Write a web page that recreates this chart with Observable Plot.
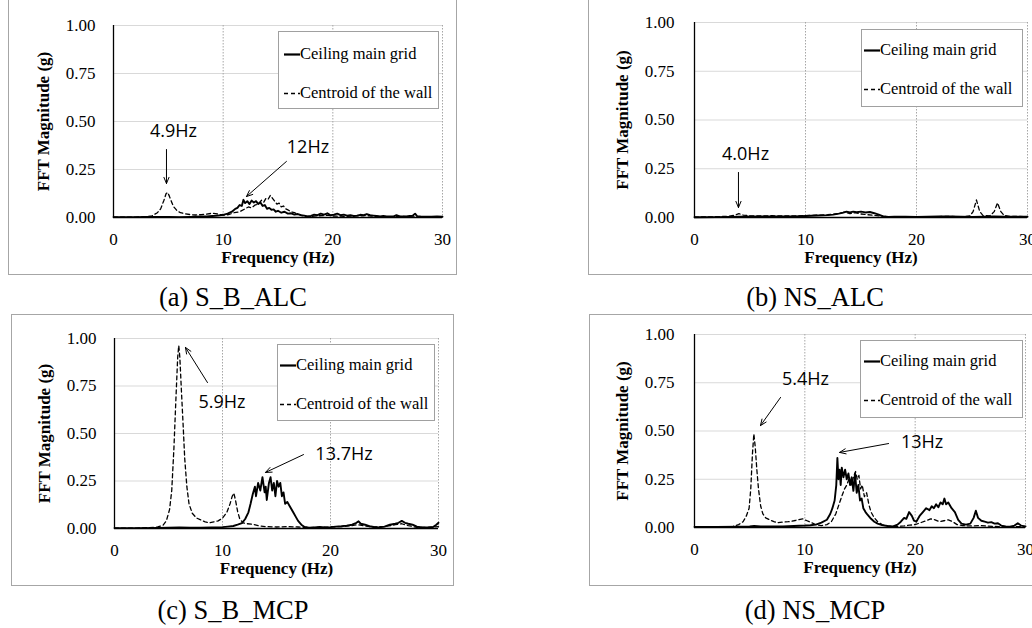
<!DOCTYPE html>
<html>
<head>
<meta charset="utf-8">
<script src="https://cdn.jsdelivr.net/npm/d3@7"></script>
<script src="https://cdn.jsdelivr.net/npm/@observablehq/plot@0.6"></script>
<style>
  html, body { margin: 0; padding: 0; background: #fff; }
  body { position: relative; width: 1032px; height: 628px; overflow: hidden; font-family: "Liberation Serif", "Times New Roman", serif; color: #000; }
  .frame { position: absolute; border: 1px solid #a6a6a6; box-sizing: border-box; }
  .chart { position: absolute; }
  .chart svg { overflow: visible; }
  .legend { position: absolute; border: 1px solid #a0a0a0; background: #fff; box-sizing: border-box; font-size: 16.5px; }
  .legend .row { position: absolute; left: 0; height: 20px; line-height: 20px; white-space: nowrap; }
  .legend svg { position: absolute; top: 0; }
  .legend span { position: absolute; top: 0; }
  .caption { position: absolute; font-size: 26.5px; line-height: 28px; white-space: nowrap; transform: translateX(-50%); }
</style>
</head>
<body>
<script>
// ---- axis ticks and series names ----
const xTicks = [0, 10, 20, 30];
const yTicks = [0, 0.25, 0.5, 0.75, 1];
const seriesNames = ["Ceiling main grid", "Centroid of the wall"];
const captions = ["(a) S_B_ALC", "(b) NS_ALC", "(c) S_B_MCP", "(d) NS_MCP"];

// ---- FFT spectra: [frequency (Hz), magnitude (g)] ----
const ceilingA = [[0,0.002],[1,0.002],[2,0.002],[3,0.003],[4,0.003],[5,0.003],[6,0.002],[7,0.003],[8,0.005],[8.5,0.006],[9,0.008],[9.5,0.01],[10,0.014],[10.4,0.02],[10.8,0.03],[11.1,0.045],[11.3,0.05],[11.5,0.065],[11.7,0.06],[11.85,0.092],[12,0.075],[12.2,0.085],[12.4,0.07],[12.6,0.088],[12.8,0.078],[13,0.085],[13.2,0.07],[13.4,0.078],[13.6,0.06],[13.8,0.065],[14,0.045],[14.2,0.05],[14.4,0.04],[14.6,0.042],[14.8,0.03],[15,0.035],[15.3,0.025],[15.6,0.03],[15.9,0.02],[16.2,0.022],[16.5,0.015],[16.8,0.018],[17.1,0.012],[17.4,0.01],[17.7,0.006],[18,0.008],[18.3,0.015],[18.6,0.012],[18.9,0.02],[19.2,0.015],[19.5,0.022],[19.8,0.012],[20.1,0.015],[20.4,0.02],[20.7,0.012],[21,0.015],[21.3,0.01],[21.6,0.012],[21.9,0.008],[22.2,0.01],[22.5,0.014],[22.8,0.012],[23.1,0.018],[23.4,0.012],[23.7,0.01],[24,0.008],[24.3,0.006],[24.6,0.008],[24.9,0.005],[25.2,0.006],[25.5,0.005],[25.8,0.012],[26.1,0.006],[26.4,0.005],[26.7,0.006],[27,0.008],[27.3,0.01],[27.5,0.02],[27.7,0.006],[28,0.005],[28.5,0.004],[29,0.004],[29.5,0.006],[30,0.004]];
const wallA = [[0,0.002],[1,0.002],[2,0.002],[3,0.004],[3.5,0.008],[4,0.025],[4.3,0.045],[4.6,0.09],[4.8,0.125],[4.95,0.13],[5.1,0.11],[5.3,0.08],[5.5,0.055],[5.8,0.035],[6.1,0.025],[6.5,0.02],[7,0.015],[7.5,0.013],[8,0.015],[8.5,0.018],[9,0.022],[9.5,0.018],[10,0.012],[10.5,0.015],[11,0.025],[11.5,0.03],[12,0.045],[12.3,0.055],[12.6,0.05],[12.9,0.065],[13.2,0.07],[13.5,0.09],[13.7,0.08],[13.9,0.1],[14.1,0.095],[14.3,0.115],[14.5,0.1],[14.7,0.085],[14.9,0.07],[15.1,0.075],[15.3,0.055],[15.5,0.06],[15.7,0.045],[15.9,0.04],[16.2,0.03],[16.5,0.025],[16.8,0.018],[17.1,0.012],[17.5,0.006],[18,0.005],[18.5,0.008],[19,0.01],[19.5,0.012],[20,0.008],[21,0.006],[22,0.008],[23,0.01],[24,0.006],[25,0.004],[26,0.006],[27,0.004],[28,0.003],[29,0.004],[30,0.003]];

const ceilingB = [[0,0.001],[2,0.002],[4,0.004],[6,0.005],[8,0.005],[9,0.006],[10,0.008],[11,0.01],[12,0.012],[12.5,0.015],[13,0.02],[13.4,0.025],[13.7,0.03],[14,0.026],[14.3,0.03],[14.6,0.027],[15,0.03],[15.4,0.026],[15.8,0.028],[16.2,0.022],[16.6,0.015],[17,0.006],[17.5,0.003],[18,0.004],[19,0.004],[20,0.003],[21,0.004],[22,0.005],[23,0.006],[24,0.004],[25,0.003],[26,0.004],[27,0.005],[28,0.004],[29,0.004],[30,0.004]];
const wallB = [[0,0.002],[2,0.004],[3,0.006],[3.6,0.012],[4,0.02],[4.4,0.012],[5,0.009],[6,0.008],[7,0.009],[8,0.008],[9,0.008],[10,0.01],[11,0.012],[12,0.014],[13,0.02],[13.5,0.028],[14,0.02],[14.5,0.025],[15,0.018],[15.5,0.015],[16,0.012],[17,0.006],[18,0.004],[19,0.005],[20,0.004],[21,0.004],[22,0.005],[23,0.006],[24,0.004],[24.8,0.008],[25.1,0.03],[25.4,0.09],[25.7,0.03],[26,0.01],[26.6,0.008],[27,0.03],[27.3,0.075],[27.6,0.03],[27.9,0.01],[28.5,0.005],[29,0.006],[30,0.004]];

const ceilingC = [[0,0.002],[2,0.002],[4,0.003],[5,0.004],[6,0.005],[7,0.004],[8,0.004],[9,0.005],[10,0.007],[10.5,0.01],[11,0.013],[11.4,0.02],[11.8,0.028],[12.1,0.05],[12.4,0.085],[12.6,0.13],[12.8,0.18],[13,0.22],[13.1,0.17],[13.3,0.24],[13.5,0.2],[13.7,0.27],[13.9,0.19],[14,0.22],[14.1,0.15],[14.3,0.24],[14.45,0.27],[14.6,0.2],[14.75,0.24],[14.9,0.17],[15.05,0.25],[15.2,0.22],[15.35,0.24],[15.5,0.17],[15.65,0.19],[15.8,0.13],[16,0.14],[16.2,0.12],[16.4,0.1],[16.6,0.08],[16.8,0.06],[17,0.04],[17.3,0.02],[17.6,0.008],[18,0.004],[18.5,0.006],[19,0.008],[19.5,0.006],[20,0.007],[20.5,0.01],[21,0.012],[21.5,0.015],[22,0.02],[22.4,0.03],[22.6,0.038],[22.8,0.025],[23.2,0.02],[23.6,0.012],[24,0.008],[24.5,0.006],[25,0.01],[25.5,0.02],[26,0.025],[26.3,0.03],[26.6,0.04],[26.9,0.03],[27.2,0.025],[27.6,0.02],[28,0.01],[28.5,0.005],[29,0.006],[29.5,0.008],[29.8,0.02],[30,0.03]];
const wallC = [[0,0.002],[2,0.002],[3,0.004],[4,0.008],[4.5,0.018],[4.8,0.04],[5.1,0.1],[5.3,0.2],[5.5,0.42],[5.7,0.7],[5.85,0.9],[5.95,0.963],[6.05,0.9],[6.2,0.72],[6.35,0.55],[6.5,0.37],[6.7,0.22],[6.9,0.13],[7.2,0.08],[7.6,0.055],[8,0.045],[8.4,0.035],[8.8,0.03],[9.2,0.035],[9.6,0.04],[10,0.055],[10.4,0.085],[10.7,0.13],[10.9,0.17],[11.05,0.186],[11.2,0.15],[11.4,0.09],[11.6,0.05],[11.9,0.03],[12.3,0.025],[12.8,0.022],[13.3,0.015],[14,0.01],[15,0.008],[16,0.01],[17,0.008],[18,0.005],[19,0.006],[20,0.008],[21,0.01],[22,0.015],[22.5,0.02],[23,0.015],[24,0.008],[25,0.01],[26,0.02],[26.6,0.025],[27.2,0.015],[28,0.006],[29,0.005],[30,0.01]];

const ceilingD = [[0,0.003],[2,0.003],[4,0.004],[5,0.005],[5.4,0.008],[6,0.005],[7,0.005],[8,0.006],[9,0.008],[10,0.01],[10.5,0.012],[11,0.015],[11.5,0.025],[12,0.04],[12.3,0.07],[12.5,0.1],[12.7,0.14],[12.85,0.22],[12.95,0.36],[13.05,0.25],[13.15,0.3],[13.25,0.22],[13.35,0.31],[13.5,0.26],[13.65,0.3],[13.8,0.25],[13.95,0.28],[14.1,0.22],[14.25,0.26],[14.4,0.19],[14.55,0.28],[14.7,0.18],[14.85,0.22],[15,0.14],[15.15,0.15],[15.3,0.1],[15.5,0.08],[15.7,0.065],[16,0.045],[16.3,0.03],[16.6,0.02],[17,0.012],[17.5,0.008],[18,0.006],[18.4,0.015],[18.7,0.03],[19,0.05],[19.2,0.045],[19.45,0.08],[19.7,0.06],[19.9,0.035],[20.1,0.03],[20.4,0.06],[20.7,0.08],[21,0.1],[21.3,0.09],[21.5,0.11],[21.7,0.1],[21.9,0.12],[22.1,0.105],[22.3,0.13],[22.5,0.12],[22.65,0.15],[22.8,0.12],[23,0.13],[23.3,0.1],[23.6,0.08],[23.9,0.04],[24.2,0.02],[24.6,0.015],[25,0.02],[25.3,0.05],[25.5,0.087],[25.7,0.05],[26,0.035],[26.3,0.03],[26.6,0.025],[26.9,0.028],[27.2,0.02],[27.5,0.022],[27.8,0.01],[28.2,0.005],[28.6,0.004],[29,0.01],[29.3,0.022],[29.6,0.01],[30,0.006]];
const wallD = [[0,0.002],[2,0.003],[3,0.004],[3.5,0.006],[4,0.015],[4.4,0.03],[4.7,0.06],[4.95,0.1],[5.1,0.2],[5.25,0.38],[5.38,0.485],[5.5,0.42],[5.65,0.3],[5.8,0.2],[6,0.11],[6.2,0.07],[6.45,0.05],[6.8,0.04],[7.2,0.03],[7.6,0.025],[8,0.028],[8.5,0.03],[9,0.035],[9.4,0.04],[9.8,0.045],[10.2,0.035],[10.6,0.025],[11,0.015],[11.5,0.01],[12,0.015],[12.4,0.03],[12.8,0.07],[13.1,0.12],[13.4,0.17],[13.6,0.2],[13.8,0.22],[14,0.25],[14.2,0.22],[14.4,0.26],[14.6,0.29],[14.75,0.25],[14.9,0.27],[15.05,0.2],[15.2,0.22],[15.4,0.16],[15.6,0.18],[15.8,0.12],[16,0.08],[16.3,0.05],[16.6,0.03],[17,0.015],[17.5,0.008],[18,0.005],[18.5,0.006],[19,0.008],[19.5,0.012],[20,0.015],[20.5,0.025],[21,0.035],[21.4,0.045],[21.8,0.04],[22.2,0.03],[22.6,0.035],[23,0.04],[23.4,0.03],[23.8,0.015],[24.3,0.01],[25,0.008],[26,0.01],[27,0.006],[28,0.004],[29,0.005],[30,0.004]];

// ---- peak annotations (text position and arrow, in data units) ----
const peakLabelsA = [{label: "4.9Hz", f: 5.47, v: 0.448}, {label: "12Hz", f: 17.73, v: 0.365}];
const peakArrowsA = [{f1: 4.83, v1: 0.354, f2: 4.83, v2: 0.177}, {f1: 15.77, v1: 0.292, f2: 12.12, v2: 0.109}];
const peakLabelsB = [{label: "4.0Hz", f: 4.6, v: 0.323}];
const peakArrowsB = [{f1: 3.96, v1: 0.231, f2: 3.96, v2: 0.051}];
const peakLabelsC = [{label: "5.9Hz", f: 9.95, v: 0.663}, {label: "13.7Hz", f: 21.25, v: 0.39}];
const peakArrowsC = [{f1: 8.61, v1: 0.768, f2: 6.57, v2: 0.953}, {f1: 17.5, v1: 0.389, f2: 13.98, v2: 0.295}];
const peakLabelsD = [{label: "5.4Hz", f: 10.06, v: 0.767}, {label: "13Hz", f: 20.63, v: 0.44}];
const peakArrowsD = [{f1: 7.8, v1: 0.674, f2: 5.98, v2: 0.528}, {f1: 17.59, v1: 0.435, f2: 13.15, v2: 0.389}];

// ---- page layout of the four panels (pixels) ----
const panels = [
  {ceiling: ceilingA, wall: wallA, labels: peakLabelsA, arrows: peakArrowsA,
   frame: [8, -2, 449, 277], area: [113, 25, 442, 217], legend: [278, 31, 161, 78, 5, 12], caption: [233, 283], tickPad: 18, yLabelOff: 77},
  {ceiling: ceilingB, wall: wallB, labels: peakLabelsB, arrows: peakArrowsB,
   frame: [588, -2, 460, 277], area: [694, 22, 1027, 217], legend: [861, 29, 162, 78, 2, 10], caption: [815, 283], tickPad: 20, yLabelOff: 79},
  {ceiling: ceilingC, wall: wallC, labels: peakLabelsC, arrows: peakArrowsC,
   frame: [11, 314, 443, 272], area: [114, 338, 438, 528], legend: [277, 344, 158, 77, 2, 10], caption: [233, 596], tickPad: 18, yLabelOff: 77},
  {ceiling: ceilingD, wall: wallD, labels: peakLabelsD, arrows: peakArrowsD,
   frame: [589, 314, 460, 272], area: [694, 334, 1025, 527], legend: [860, 340, 163, 78, 3, 10], caption: [815, 596], tickPad: 20, yLabelOff: 79}
];

function el(tag, cls, css) {
  const e = document.createElement(tag);
  if (cls) e.className = cls;
  Object.assign(e.style, css || {});
  document.body.appendChild(e);
  return e;
}

panels.forEach((p, i) => {
  const [fx, fy, fw, fh] = p.frame;
  el("div", "frame", {left: fx + "px", top: fy + "px", width: fw + "px", height: fh + "px"});

  const [ax0, ay0, ax1, ay1] = p.area;
  const L = fx + 1, T = ay0 - 15;
  const W = Math.min(ax1 + 20, 1032) - L;
  const H = ay1 + 55 - T;

  const chart = Plot.plot({
    width: W, height: H,
    marginLeft: ax0 - L, marginRight: L + W - ax1,
    marginTop: ay0 - T, marginBottom: T + H - ay1,
    style: {fontFamily: "'Liberation Serif', 'Times New Roman', serif", fontSize: "17px", color: "#000", background: "transparent", overflow: "visible"},
    x: {domain: [0, 30]},
    y: {domain: [0, 1]},
    marks: [
      Plot.gridY(yTicks.slice(1), {stroke: "#d9d9d9", strokeOpacity: 1}),
      Plot.gridX(xTicks.slice(1), {stroke: "#a6a6a6", strokeOpacity: 1, strokeDasharray: "1.5,1.5"}),
      Plot.axisX(xTicks, {tickSize: 0, tickPadding: 15, tickFormat: d => String(d), label: null}),
      Plot.axisX([], {label: "Frequency (Hz)", labelAnchor: "center", labelArrow: "none", labelOffset: 45.5, fontWeight: "bold"}),
      Plot.axisY(yTicks, {tickSize: 0, tickPadding: p.tickPad, tickFormat: d => d.toFixed(2), label: null}),
      Plot.axisY([], {label: "FFT Magnitude (g)", labelAnchor: "center", labelArrow: "none", labelOffset: p.yLabelOff, fontWeight: "bold"}),
      Plot.line(p.wall, {x: d => d[0], y: d => d[1], stroke: "#000", strokeWidth: 1.3, strokeDasharray: "4,3"}),
      Plot.line(p.ceiling, {x: d => d[0], y: d => d[1], stroke: "#000", strokeWidth: 1.9}),
      Plot.ruleX([0], {stroke: "#000", strokeWidth: 1.3}),
      Plot.ruleY([0], {stroke: "#000", strokeWidth: 1.3}),
      Plot.arrow(p.arrows, {x1: "f1", y1: "v1", x2: "f2", y2: "v2", stroke: "#000", strokeWidth: 1, headLength: 10, headAngle: 45}),
      Plot.text(p.labels, {x: "f", y: "v", text: "label", fontFamily: "'Open Sans', sans-serif", fontSize: 18, fill: "#000"})
    ]
  });
  const holder = el("div", "chart", {left: L + "px", top: T + "px", width: W + "px", height: H + "px"});
  holder.appendChild(chart);

  // legend box
  const [lx, ly, lw, lh, sx, r0] = p.legend;
  const lg = el("div", "legend", {left: lx + "px", top: ly + "px", width: lw + "px", height: lh + "px"});
  seriesNames.forEach((name, k) => {
    const row = document.createElement("div");
    row.className = "row";
    row.style.top = (r0 + k * 39) + "px";
    row.style.width = (lw - 2) + "px";
    const dash = k === 0 ? "" : "stroke-dasharray='4,3'";
    const sw = k === 0 ? 2.2 : 1.3;
    row.innerHTML = `<svg width="17" height="20" style="left:${sx}px"><line x1="0" x2="16" y1="10.5" y2="10.5" stroke="#000" stroke-width="${sw}" ${dash}/></svg><span style="left:${sx + 16}px">${name}</span>`;
    lg.appendChild(row);
  });

  const cap = el("div", "caption", {left: p.caption[0] + "px", top: p.caption[1] + "px"});
  cap.textContent = captions[i];
});
</script>
</body>
</html>
